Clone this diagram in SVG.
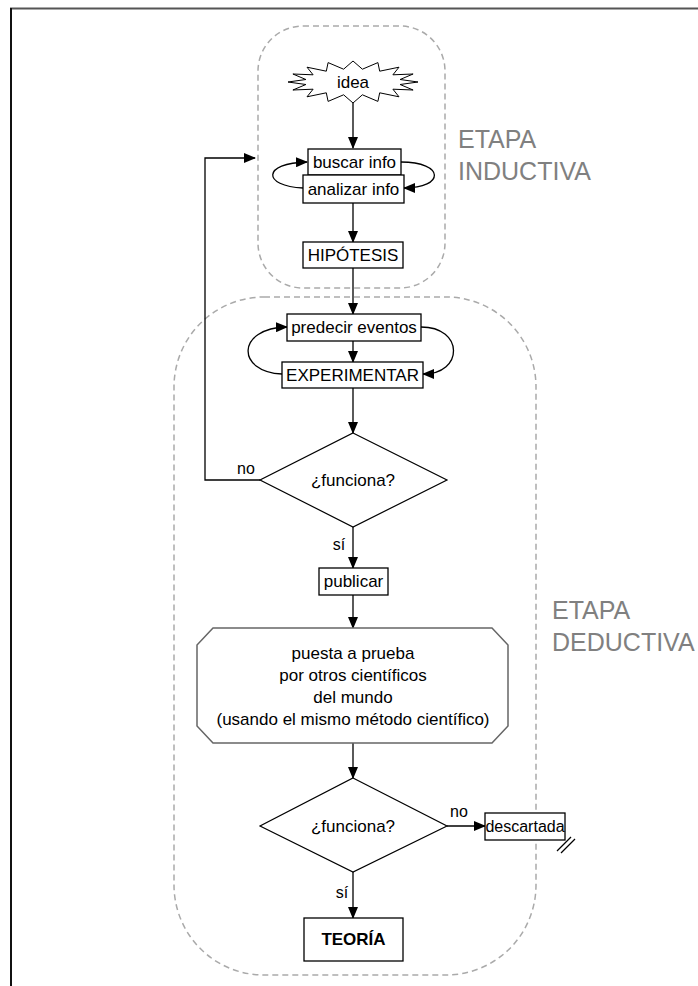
<svg xmlns="http://www.w3.org/2000/svg" width="698" height="986" viewBox="0 0 698 986">
<style>
.box{fill:#fff;stroke:#000;stroke-width:1.3}
.t{font-family:"Liberation Sans",Arial,sans-serif;font-size:17px;fill:#000;text-anchor:middle}
.lbl{font-family:"Liberation Sans",Arial,sans-serif;font-size:16px;fill:#000;text-anchor:middle}
.stage{font-family:"Liberation Sans",Arial,sans-serif;font-size:25px;fill:#808080}
.region{fill:none;stroke:#aaa;stroke-width:1.5;stroke-dasharray:6 4}
.c{fill:none;stroke:#000;stroke-width:1.3}
</style>
<defs>
<marker id="ah" markerWidth="12" markerHeight="10" refX="11" refY="5" orient="auto" markerUnits="userSpaceOnUse">
<path d="M0,0 L12,5 L0,10 Z" fill="#000"/>
</marker>
</defs>
<rect width="698" height="986" fill="#fff"/>
<g id="frame">
<line x1="10" y1="8.5" x2="698" y2="8.5" stroke="#555" stroke-width="2"/>
<line x1="11" y1="8" x2="11" y2="986" stroke="#111" stroke-width="2"/>
</g>
<g id="regions">
<rect class="region" x="258" y="26" width="187" height="262" rx="45"/>
<rect class="region" x="174" y="297" width="362" height="678" rx="90"/>
</g>
<g id="stage-inductiva">
<text class="stage" x="458" y="148">ETAPA</text>
<text class="stage" x="458" y="180">INDUCTIVA</text>
</g>
<g id="stage-deductiva">
<text class="stage" x="552" y="619">ETAPA</text>
<text class="stage" x="552" y="651">DEDUCTIVA</text>
</g>
<g id="connectors">
<path class="c" d="M353,103 L353,148" marker-end="url(#ah)"/>
<path class="c" d="M303,188 C262,186 262,163 307,162" marker-end="url(#ah)"/>
<path class="c" d="M401,162 C445,162 445,188 404,188" marker-end="url(#ah)"/>
<path class="c" d="M353,203 L353,242" marker-end="url(#ah)"/>
<path class="c" d="M353,268 L353,314" marker-end="url(#ah)"/>
<path class="c" d="M353,341 L353,362" marker-end="url(#ah)"/>
<path class="c" d="M282,374 C236,372 236,328 287,327" marker-end="url(#ah)"/>
<path class="c" d="M421,327 C464,327 464,374 423,374" marker-end="url(#ah)"/>
<path class="c" d="M353,388 L353,433" marker-end="url(#ah)"/>
<path class="c" d="M260,480 L205,480 L205,158 L255,158" marker-end="url(#ah)"/>
<path class="c" d="M353,527 L353,568" marker-end="url(#ah)"/>
<path class="c" d="M353,595 L353,628" marker-end="url(#ah)"/>
<path class="c" d="M353,743 L353,778" marker-end="url(#ah)"/>
<path class="c" d="M447,826 L485,826" marker-end="url(#ah)"/>
<path class="c" d="M353,872 L353,918" marker-end="url(#ah)"/>
<text class="lbl" x="246" y="474">no</text>
<text class="lbl" x="339" y="550">sí</text>
<text class="lbl" x="459" y="817">no</text>
<text class="lbl" x="342" y="898">sí</text>
</g>
<g id="idea">
<polygon fill="#fff" stroke="#000" stroke-width="1" points="418,82 400.1,84.5 413.1,90 392.9,89.2 399,96.8 379.7,92.8 377.9,101.4 362.4,94.8 353,103 343.6,94.8 328.1,101.4 326.3,92.8 307,96.8 313.1,89.2 292.9,90 305.9,84.5 288,82 305.9,79.5 292.9,74 313.1,74.8 307,67.2 326.3,71.2 328.1,62.6 343.6,69.2 353,61 362.4,69.2 377.9,62.6 379.7,71.2 399,67.2 392.9,74.8 413.1,74 400.1,79.5"/>
<text class="t" x="353" y="88">idea</text>
</g>
<g id="buscar">
<rect class="box" x="308" y="149" width="93" height="26"/>
<text class="t" x="354.5" y="168">buscar info</text>
</g>
<g id="analizar">
<rect class="box" x="303" y="175" width="101" height="28"/>
<text class="t" x="353.5" y="195">analizar info</text>
</g>
<g id="hipotesis">
<rect class="box" x="303" y="242" width="100" height="26"/>
<text class="t" x="353" y="261">HIPÓTESIS</text>
</g>
<g id="predecir">
<rect class="box" x="287" y="314" width="134" height="27"/>
<text class="t" x="354" y="333">predecir eventos</text>
</g>
<g id="experimentar">
<rect class="box" x="282" y="362" width="141" height="26"/>
<text class="t" x="352.5" y="381">EXPERIMENTAR</text>
</g>
<g id="funciona1">
<polygon fill="#fff" stroke="#000" stroke-width="1.2" points="353,433 447,480 353,527 260,480"/>
<text class="t" x="353" y="486">¿funciona?</text>
</g>
<g id="publicar">
<rect class="box" x="319" y="568" width="69" height="27"/>
<text class="t" x="353.5" y="587">publicar</text>
</g>
<g id="prueba">
<path d="M213,628 L492,628 L508,645 L508,726 L492,743 L213,743 L197,726 L197,645 Z" fill="#fff" stroke="#666" stroke-width="1.5"/>
<text class="t" x="353" y="659">puesta a prueba</text>
<text class="t" x="353" y="681">por otros científicos</text>
<text class="t" x="353" y="703">del mundo</text>
<text class="t" x="353" y="725">(usando el mismo método científico)</text>
</g>
<g id="funciona2">
<polygon fill="#fff" stroke="#000" stroke-width="1.2" points="353,778 447,826 353,872 260,826"/>
<text class="t" x="353" y="832">¿funciona?</text>
</g>
<g id="descartada">
<rect class="box" x="485" y="813" width="80" height="27"/>
<text class="lbl" x="525" y="832">descartada</text>
<line x1="557" y1="851" x2="571" y2="837" stroke="#000" stroke-width="1.2"/>
<line x1="561" y1="853" x2="575" y2="839" stroke="#000" stroke-width="1.2"/>
</g>
<g id="teoria">
<rect class="box" x="304" y="918" width="99" height="43"/>
<text class="t" x="353.5" y="945" font-weight="bold">TEORÍA</text>
</g>
</svg>
